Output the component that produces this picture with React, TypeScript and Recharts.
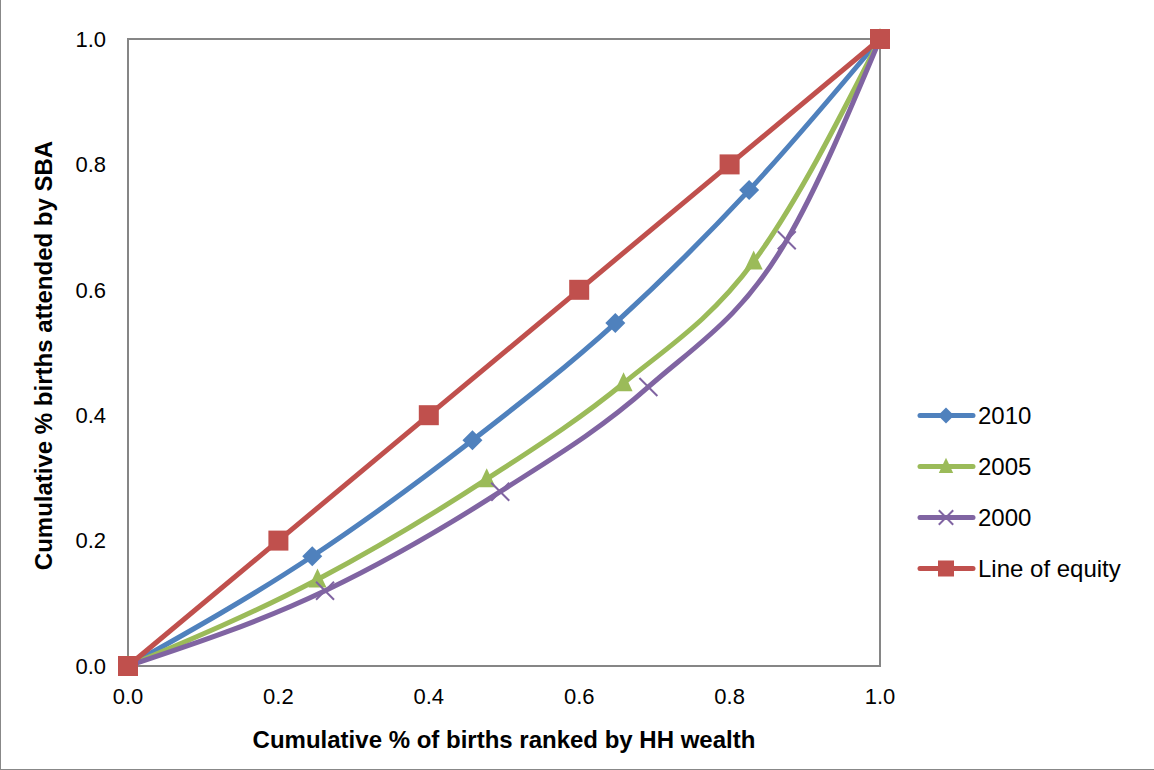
import React from "react";
import { LineChart, Line, XAxis, YAxis, ReferenceArea } from "recharts";

const ticks = [0, 0.2, 0.4, 0.6, 0.8, 1.0];

const births2010 = [
  { x: 0, y: 0 },
  { x: 0.245, y: 0.175 },
  { x: 0.458, y: 0.36 },
  { x: 0.648, y: 0.547 },
  { x: 0.826, y: 0.759 },
  { x: 1, y: 1 },
];

const births2005 = [
  { x: 0, y: 0 },
  { x: 0.252, y: 0.138 },
  { x: 0.477, y: 0.298 },
  { x: 0.659, y: 0.451 },
  { x: 0.832, y: 0.645 },
  { x: 1, y: 1 },
];

const births2000 = [
  { x: 0, y: 0 },
  { x: 0.262, y: 0.12 },
  { x: 0.495, y: 0.278 },
  { x: 0.692, y: 0.445 },
  { x: 0.876, y: 0.679 },
  { x: 1, y: 1 },
];

const equity = [
  { x: 0, y: 0 },
  { x: 0.2, y: 0.2 },
  { x: 0.4, y: 0.4 },
  { x: 0.6, y: 0.6 },
  { x: 0.8, y: 0.8 },
  { x: 1, y: 1 },
];

const BLUE = "#4F81BD";
const GREEN = "#9BBB59";
const PURPLE = "#8064A2";
const RED = "#C0504D";
const FONT = "Arial, 'Liberation Sans', sans-serif";

type Shape = "diamond" | "triangle" | "cross" | "square";

// s scales the marker down for the legend swatches
function marker(shape: Shape, color: string, cx: number, cy: number, s = 1) {
  if (shape === "diamond") {
    const r = 10 * s;
    return <path d={`M${cx},${cy - r}L${cx + r},${cy}L${cx},${cy + r}L${cx - r},${cy}Z`} fill={color} />;
  }
  if (shape === "triangle") {
    const w = 9 * s;
    return <path d={`M${cx},${cy - 11 * s}L${cx + w},${cy + 8 * s}L${cx - w},${cy + 8 * s}Z`} fill={color} />;
  }
  if (shape === "cross") {
    const r = 9 * s;
    return (
      <path d={`M${cx - r},${cy - r}L${cx + r},${cy + r}M${cx + r},${cy - r}L${cx - r},${cy + r}`} stroke={color} strokeWidth={2} fill="none" />
    );
  }
  const r = 10 * s;
  return <rect x={cx - r} y={cy - r} width={r * 2} height={r * 2} fill={color} />;
}

const dot = (shape: Shape, color: string) => (props: any) => {
  const { cx, cy, index } = props;
  if (cx == null || cy == null) return <g key={index} />;
  return <g key={index}>{marker(shape, color, cx, cy)}</g>;
};

const legendItems: { name: string; color: string; shape: Shape }[] = [
  { name: "2010", color: BLUE, shape: "diamond" },
  { name: "2005", color: GREEN, shape: "triangle" },
  { name: "2000", color: PURPLE, shape: "cross" },
  { name: "Line of equity", color: RED, shape: "square" },
];

// legend sits beside the plot, outside the chart's layout box
function LegendBox() {
  return (
    <svg width={236} height={200} style={{ position: "absolute", left: 914, top: 400, overflow: "visible" }}>
      {legendItems.map((item, i) => {
        const y = 15.5 + i * 51;
        return (
          <g key={item.name}>
            <line x1={5} x2={58} y1={y} y2={y} stroke={item.color} strokeWidth={5} strokeLinecap="round" />
            {marker(item.shape, item.color, 31, y, 0.8)}
            <text x={63} y={y + 8.5} fontSize={24} fontFamily={FONT} fill="#000">
              {item.name}
            </text>
          </g>
        );
      })}
    </svg>
  );
}

const XTitle = (props: any) => {
  const vb = props.viewBox;
  return (
    <text x={vb.x + vb.width / 2} y={vb.y + 82} textAnchor="middle" fontSize={24} fontWeight="bold" fontFamily={FONT} fill="#000">
      Cumulative % of births ranked by HH wealth
    </text>
  );
};

const YTitle = (props: any) => {
  const vb = props.viewBox;
  const x = 51;
  const y = vb.y + vb.height / 2 + 3;
  return (
    <text x={x} y={y} transform={`rotate(-90, ${x}, ${y})`} textAnchor="middle" fontSize={24} fontWeight="bold" fontFamily={FONT} fill="#000">
      Cumulative % births attended by SBA
    </text>
  );
};

export default function App() {
  return (
    <div
      style={{
        position: "absolute",
        left: 0,
        top: 0,
        width: 1154,
        height: 770,
        background: "#fff",
        boxSizing: "border-box",
        borderLeft: "1px solid #888",
        borderBottom: "1px solid #888",
      }}
    >
      <LineChart width={1153} height={769} margin={{ top: 39, right: 274, bottom: 18, left: 0 }}>
        <XAxis
          type="number"
          dataKey="x"
          domain={[0, 1]}
          ticks={ticks}
          tickFormatter={(v: number) => v.toFixed(1)}
          axisLine={false}
          tickLine={false}
          tick={{ fontSize: 22, fill: "#000", fontFamily: FONT }}
          tickMargin={16}
          height={85}
          label={<XTitle />}
        />
        <YAxis
          type="number"
          dataKey="y"
          domain={[0, 1]}
          ticks={ticks}
          tickFormatter={(v: number) => v.toFixed(1)}
          axisLine={false}
          tickLine={false}
          width={127}
          tick={{ fontSize: 22, fill: "#000", fontFamily: FONT }}
          tickMargin={16}
          label={<YTitle />}
        />
        <ReferenceArea x1={0} x2={1} y1={0} y2={1} fill="none" stroke="#868686" strokeWidth={2} ifOverflow="visible" />
        <Line data={births2010} dataKey="y" name="2010" type="monotone" stroke={BLUE} strokeWidth={5} dot={dot("diamond", BLUE)} isAnimationActive={false} />
        <Line data={births2005} dataKey="y" name="2005" type="monotone" stroke={GREEN} strokeWidth={5} dot={dot("triangle", GREEN)} isAnimationActive={false} />
        <Line data={births2000} dataKey="y" name="2000" type="monotone" stroke={PURPLE} strokeWidth={5} dot={dot("cross", PURPLE)} isAnimationActive={false} />
        <Line data={equity} dataKey="y" name="Line of equity" type="linear" stroke={RED} strokeWidth={5} dot={dot("square", RED)} isAnimationActive={false} />
      </LineChart>
      <LegendBox />
    </div>
  );
}
